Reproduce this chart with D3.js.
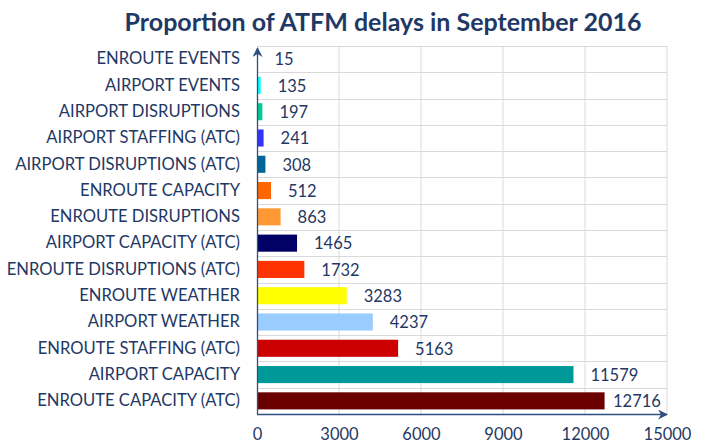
<!DOCTYPE html>
<html>
<head>
<meta charset="utf-8">
<script src="https://cdn.jsdelivr.net/npm/d3@7"></script>
<style>
  body { margin: 0; background: #fff; }
  text { font-family: Lato, "Open Sans", sans-serif; fill: #1f3864; }
  .grid line { stroke: #d9d9d9; stroke-width: 1; }
</style>
</head>
<body>
<div id="chart"></div>
<script>
var categories = [
	"ENROUTE EVENTS", "AIRPORT EVENTS", "AIRPORT DISRUPTIONS", "AIRPORT STAFFING (ATC)",
	"AIRPORT DISRUPTIONS (ATC)", "ENROUTE CAPACITY", "ENROUTE DISRUPTIONS", "AIRPORT CAPACITY (ATC)",
	"ENROUTE DISRUPTIONS (ATC)", "ENROUTE WEATHER", "AIRPORT WEATHER", "ENROUTE STAFFING (ATC)",
	"AIRPORT CAPACITY", "ENROUTE CAPACITY (ATC)"
];
var values = [15, 135, 197, 241, 308, 512, 863, 1465, 1732, 3283, 4237, 5163, 11579, 12716];
var colors = ["#1f3864", "#00ffff", "#00cc99", "#3333ff", "#006699", "#ff6600", "#ff9933", "#000066",
	"#ff3300", "#ffff00", "#99ccff", "#cc0000", "#009999", "#6b0000"];
var xTicks = [0, 3000, 6000, 9000, 12000, 15000];

var width = 705, height = 445;
var margin = {top: 46, right: 38, bottom: 31, left: 257},
	chartWidth = width - margin.left - margin.right,
	chartHeight = height - margin.top - margin.bottom;

var svg = d3.select("#chart").append("svg")
	.attr("width", width)
	.attr("height", height);

svg.append("text")
	.attr("x", 383)
	.attr("y", 31)
	.attr("text-anchor", "middle")
	.style("font-size", "25px")
	.style("font-weight", "bold")
	.text("Proportion of ATFM delays in September 2016");

var data = categories.map(function(c, i) { return {name: c, value: values[i], color: colors[i]}; });

var x = d3.scaleLinear().domain([0, 15000]).range([0, chartWidth]);
var y = d3.scaleBand().domain(categories).range([0, chartHeight]).paddingInner(0.35).paddingOuter(0.175);
var yRows = d3.scaleBand().domain(categories).range([0, chartHeight]);

var g = svg.append("g")
	.attr("transform", "translate(" + margin.left + "," + margin.top + ")");

// gridlines
var grid = g.append("g").attr("class", "grid");
grid.selectAll(".vline")
	.data(xTicks.slice(1))
	.enter().append("line")
	.attr("x1", function(d) { return x(d); })
	.attr("x2", function(d) { return x(d); })
	.attr("y1", 0)
	.attr("y2", chartHeight);
grid.selectAll(".hline")
	.data(categories)
	.enter().append("line")
	.attr("x1", 0)
	.attr("x2", chartWidth)
	.attr("y1", function(d) { return Math.round(yRows(d)) + 0.5; })
	.attr("y2", function(d) { return Math.round(yRows(d)) + 0.5; });

// bars
g.selectAll(".bar")
	.data(data)
	.enter().append("rect")
	.attr("class", "bar")
	.attr("x", 0)
	.attr("y", function(d) { return y(d.name); })
	.attr("height", y.bandwidth())
	.attr("width", function(d) { return x(d.value); })
	.attr("fill", function(d) { return d.color; });

// value labels
g.selectAll(".val")
	.data(data)
	.enter().append("text")
	.attr("class", "val")
	.attr("x", function(d) { return Math.min(x(d.value) + 17, chartWidth - 54); })
	.attr("y", function(d) { return y(d.name) + y.bandwidth() / 2; })
	.attr("dy", "0.38em")
	.style("font-size", "16.5px")
	.text(function(d) { return d.value; });

// category labels
g.append("g")
	.attr("class", "y axis")
	.call(d3.axisLeft(yRows).tickSize(0).tickPadding(17))
	.call(function(s) { s.select(".domain").remove(); })
	.selectAll("text")
	.style("font-size", "16.6px")
	.attr("fill", "#1f3864");

// x tick labels
g.append("g")
	.attr("class", "x axis")
	.attr("transform", "translate(0," + chartHeight + ")")
	.call(d3.axisBottom(x).tickValues(xTicks).tickFormat(d3.format("d")).tickSize(0).tickPadding(14))
	.call(function(s) { s.select(".domain").remove(); })
	.selectAll("text")
	.style("font-size", "16.5px")
	.attr("fill", "#1f3864");

// axis arrows
var defs = svg.append("defs");
defs.append("marker")
	.attr("id", "arrow")
	.attr("viewBox", "0 0 10 10")
	.attr("refX", 9).attr("refY", 5)
	.attr("markerWidth", 10).attr("markerHeight", 10)
	.attr("markerUnits", "userSpaceOnUse")
	.attr("orient", "auto")
	.append("path")
	.attr("d", "M0,0 L10,5 L0,10 L3,5 Z")
	.attr("fill", "#2f4f7f");

g.append("line")
	.attr("x1", 0.5).attr("x2", 0.5)
	.attr("y1", chartHeight + 0.5).attr("y2", 2)
	.attr("stroke", "#2f4f7f").attr("stroke-width", 1.3)
	.attr("marker-end", "url(#arrow)");
g.append("line")
	.attr("x1", 0).attr("x2", chartWidth)
	.attr("y1", chartHeight + 0.5).attr("y2", chartHeight + 0.5)
	.attr("stroke", "#2f4f7f").attr("stroke-width", 1.3)
	.attr("marker-end", "url(#arrow)");
</script>
</body>
</html>
